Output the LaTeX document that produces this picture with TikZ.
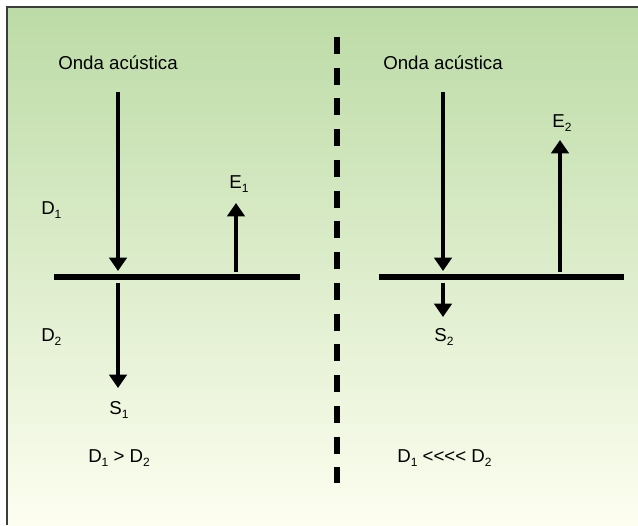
\documentclass[tikz,border=0pt]{standalone}
\usepackage{fontspec}
\setmainfont{Liberation Sans}[Ligatures=TeXOff]
\usetikzlibrary{arrows.meta, positioning}

\definecolor{topgreen}{RGB}{188,219,166}
\definecolor{bottomcream}{RGB}{253,254,240}
\definecolor{framegray}{RGB}{60,60,60}
\newcommand{\lowidx}[1]{\raisebox{-0.45ex}{\fontsize{9}{9}\selectfont #1}}

\begin{document}
\begin{tikzpicture}[x=0.75pt, y=-0.75pt,
            lbl/.style={font=\fontsize{14}{16}\selectfont, inner sep=0pt},
            wave/.style={-{Triangle[width=13pt, length=10pt]}, line width=3pt},
            plate/.style={line width=5pt},
            divider/.style={line width=4pt, dash pattern=on 12.75pt off 10.3pt}
        ]
        \useasboundingbox (0,0) rectangle (638,525);
        % --- background and frame ---
        \shade[top color=topgreen, bottom color=bottomcream] (7,7) rectangle (638,525);
        \draw[framegray, line width=1.2pt] (7,525) -- (7,7) -- (638,7);

        % --- divider ---
        \coordinate (divtop) at (337,37);
        \coordinate (divbot) at (337,483);
        \draw[divider] (divtop) -- (divbot);

        % --- Left: D1 > D2 ---
        \node[lbl] (ondaL) at (118,63) {Onda acústica};
        \coordinate (inL) at (118,92);
        \coordinate (hitL) at (118,271);
        \coordinate (plateLw) at (54,277);
        \coordinate (plateLe) at (300,277);
        \coordinate (outL) at (118,283);
        \coordinate (tipS1) at (118,388);
        \coordinate (baseE1) at (236,272);
        \coordinate (tipE1) at (236,203);
        \draw[plate] (plateLw) -- (plateLe);
        \draw[wave] (inL) -- (hitL);
        \draw[wave] (outL) -- (tipS1);
        \draw[wave] (baseE1) -- (tipE1);
        \node[lbl, anchor=west] (d1L) at (41,210) {D\lowidx{1}};
        \node[lbl, anchor=west] (d2L) at (41,337) {D\lowidx{2}};
        \node[lbl] (e1) at (239,184) {E\lowidx{1}};
        \node[lbl] (s1) at (119,410) {S\lowidx{1}};
        \node[lbl, anchor=west] (relL) at (88,458) {D\lowidx{1} > D\lowidx{2}};

        % --- Right: D1 <<<< D2 ---
        \node[lbl] (ondaR) at (443,63) {Onda acústica};
        \coordinate (inR) at (443,92);
        \coordinate (hitR) at (443,271);
        \coordinate (plateRw) at (379,277);
        \coordinate (plateRe) at (624,277);
        \coordinate (outR) at (443,283);
        \coordinate (tipS2) at (443,317);
        \coordinate (baseE2) at (560,272);
        \coordinate (tipE2) at (560,140);
        \draw[plate] (plateRw) -- (plateRe);
        \draw[wave] (inR) -- (hitR);
        \draw[wave] (outR) -- (tipS2);
        \draw[wave] (baseE2) -- (tipE2);
        \node[lbl] (e2) at (562,123) {E\lowidx{2}};
        \node[lbl] (s2) at (444,337) {S\lowidx{2}};
        \node[lbl, anchor=west] (relR) at (397,458) {D\lowidx{1} <<<< D\lowidx{2}};
        \end{tikzpicture}
\end{document}
